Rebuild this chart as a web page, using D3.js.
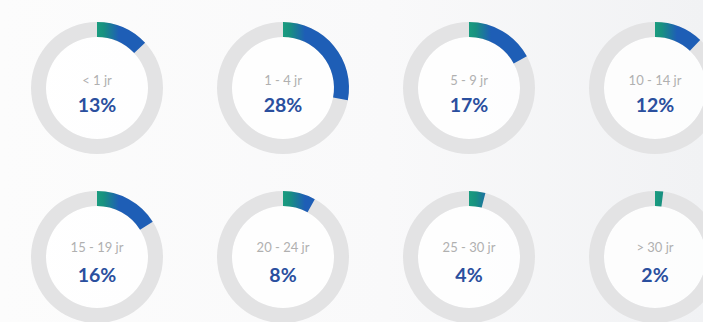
<!DOCTYPE html>
<html>
<head>
<meta charset="utf-8">
<script src="https://cdn.jsdelivr.net/npm/d3@7/dist/d3.min.js"></script>
<style>
  html, body { margin: 0; padding: 0; }
  body { width: 703px; height: 322px; overflow: hidden; }
  svg { display: block; }
</style>
</head>
<body>
<svg id="chart" width="703" height="322"></svg>
<script>
// Share of employees by years of service
const categories = ["< 1 jr", "1 - 4 jr", "5 - 9 jr", "10 - 14 jr", "15 - 19 jr", "20 - 24 jr", "25 - 30 jr", "> 30 jr"];
const shares = [13, 28, 17, 12, 16, 8, 4, 2];

const width = 703, height = 322;
const svg = d3.select("#chart");
const defs = svg.append("defs");

// soft page background
const bg = defs.append("linearGradient").attr("id", "bg")
  .attr("x1", "0%").attr("x2", "100%").attr("y1", "0%").attr("y2", "0%");
bg.append("stop").attr("offset", "0%").attr("stop-color", "#fcfcfc");
bg.append("stop").attr("offset", "55%").attr("stop-color", "#f9f9fa");
bg.append("stop").attr("offset", "100%").attr("stop-color", "#f1f2f4");
svg.append("rect").attr("width", width).attr("height", height).attr("fill", "url(#bg)");

const cols = 4;
const x = d3.scalePoint().domain(d3.range(cols)).range([97, 655]);
const y = d3.scalePoint().domain([0, 1]).range([88, 257]);
const angle = d3.scaleLinear().domain([0, 100]).range([0, 2 * Math.PI]);

const outerR = 66, innerR = 51;
const ringArc = d3.arc().innerRadius(innerR).outerRadius(outerR).startAngle(0).endAngle(2 * Math.PI);
const valueArc = d3.arc().innerRadius(innerR).outerRadius(outerR).startAngle(0);

const data = categories.map((c, i) => ({ label: c, value: shares[i], col: i % cols, row: Math.floor(i / cols), i }));

const g = svg.selectAll("g.donut").data(data).join("g")
  .attr("class", "donut")
  .attr("transform", d => `translate(${x(d.col)},${y(d.row)})`);

// white face inside the ring
g.append("circle").attr("r", innerR).attr("fill", "#ffffff").attr("opacity", 0.8);

// grey track
g.append("path").attr("d", ringArc()).attr("fill", "#e3e3e4");

// teal-to-blue gradient for each value arc
data.forEach(d => {
  const lg = defs.append("linearGradient").attr("id", "arcGrad" + d.i)
    .attr("gradientUnits", "userSpaceOnUse")
    .attr("x1", 0).attr("x2", 22).attr("y1", 0).attr("y2", 0);
  lg.append("stop").attr("offset", "0%").attr("stop-color", "#1a9c7f");
  lg.append("stop").attr("offset", "30%").attr("stop-color", "#189180");
  lg.append("stop").attr("offset", "100%").attr("stop-color", "#1e5eb6");
});

g.append("path")
  .attr("d", d => valueArc({ endAngle: angle(d.value) }))
  .attr("fill", d => `url(#arcGrad${d.i})`);

g.append("text")
  .attr("text-anchor", "middle")
  .attr("y", d => d.row === 0 ? -3 : -5)
  .attr("font-family", "Lato, 'Open Sans', sans-serif")
  .attr("font-size", 13)
  .attr("fill", "#b0b0b0")
  .text(d => d.label);

g.append("text")
  .attr("text-anchor", "middle")
  .attr("y", d => d.row === 0 ? 24 : 25)
  .attr("font-family", "Lato, 'Open Sans', sans-serif")
  .attr("font-weight", 700)
  .attr("font-size", 19.5)
  .attr("fill", "#2a4f9e")
  .text(d => d.value + "%");
</script>
</body>
</html>
